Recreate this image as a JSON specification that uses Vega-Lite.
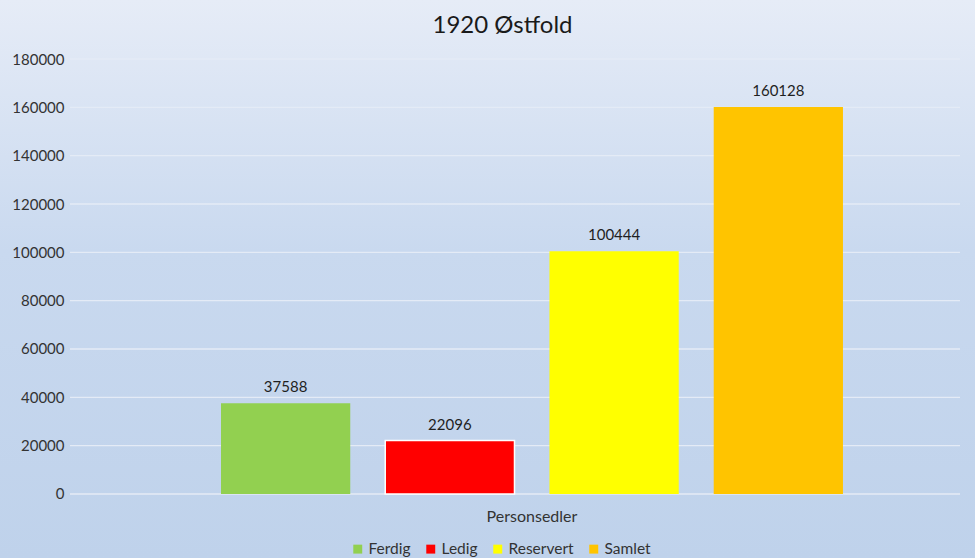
{
  "$schema": "https://vega.github.io/schema/vega-lite/v6.json",
  "width": 975,
  "height": 558,
  "autosize": {"type": "none"},
  "padding": 0,
  "background": "#e6ecf7",
  "title": {
    "text": "1920 Østfold",
    "fontSize": 24,
    "font": "Lato",
    "fontWeight": "normal",
    "color": "#1a1a1a",
    "anchor": "middle",
    "offset": -38,
    "dx": 15
  },
  "datasets": {
    "bars": [
      {"category": "Personsedler", "series": "Ferdig", "value": 37588},
      {"category": "Personsedler", "series": "Ledig", "value": 22096},
      {"category": "Personsedler", "series": "Reservert", "value": 100444},
      {"category": "Personsedler", "series": "Samlet", "value": 160128}
    ],
    "grid": [
      {"tick": 0}, {"tick": 20000}, {"tick": 40000}, {"tick": 60000}, {"tick": 80000},
      {"tick": 100000}, {"tick": 120000}, {"tick": 140000}, {"tick": 160000}, {"tick": 180000}
    ]
  },
  "layer": [
    {
      "data": {"name": "grid"},
      "mark": {"type": "rule", "color": "#e4ebf6", "strokeWidth": 1.3},
      "encoding": {
        "x": {"datum": 0, "type": "quantitative", "axis": null, "scale": {"domain": [-0.07865, 1.01685], "nice": false, "zero": false}},
        "x2": {"datum": 1},
        "y": {
          "field": "tick", "type": "quantitative",
          "scale": {"domain": [-26483, 204414], "nice": false, "zero": false},
          "axis": {"orient": "left", "offset": -70, "labelPadding": 6, "domain": false, "ticks": false, "grid": false, "title": null,
                   "values": [0, 20000, 40000, 60000, 80000, 100000, 120000, 140000, 160000, 180000],
                   "format": "d", "labelFontSize": 15, "labelFont": "Lato", "labelColor": "#333333"}
        }
      }
    },
    {
      "data": {"name": "bars"},
      "layer": [
        {
          "mark": {"type": "bar"},
          "encoding": {
            "color": {
              "field": "series", "type": "nominal",
              "scale": {"domain": ["Ferdig", "Ledig", "Reservert", "Samlet"], "range": ["#92d050", "#ff0000", "#ffff00", "#ffc400"]},
              "legend": {"orient": "none", "legendX": 350, "legendY": 541, "direction": "horizontal", "title": null,
                         "symbolType": "square", "symbolSize": 80, "symbolStrokeWidth": 0, "labelFontSize": 15.5, "labelFont": "Lato",
                         "labelColor": "#333333", "columnPadding": 12, "labelOffset": 3}
            },
            "stroke": {"condition": {"test": "datum.series === 'Ledig'", "value": "#ffffff"}, "value": null},
            "strokeWidth": {"value": 1.5}
          }
        },
        {
          "mark": {"type": "text", "baseline": "alphabetic", "dy": -11, "fontSize": 15, "font": "Lato", "fill": "#1f1f1f"},
          "encoding": {
            "text": {"field": "value", "type": "quantitative", "format": "d"}
          }
        }
      ],
      "encoding": {
        "x": {
          "field": "category", "type": "nominal",
          "scale": {"paddingOuter": 0.2838, "paddingInner": 0, "align": 0.626},
          "axis": {"orient": "bottom", "offset": -50, "labelPadding": 0, "labelDx": -7, "domain": false, "ticks": false, "grid": false, "title": null, "labelAngle": 0, "labelFontSize": 16, "labelFont": "Lato", "labelColor": "#333333"}
        },
        "xOffset": {
          "field": "series", "type": "nominal",
          "scale": {"paddingInner": 0.213, "paddingOuter": 0}
        },
        "y": {
          "field": "value", "type": "quantitative",
          "scale": {"domain": [-26483, 204414], "nice": false, "zero": false},
          "axis": {"orient": "left", "offset": -70, "labelPadding": 6, "domain": false, "ticks": false, "grid": false, "title": null,
                   "values": [0, 20000, 40000, 60000, 80000, 100000, 120000, 140000, 160000, 180000],
                   "format": "d", "labelFontSize": 15, "labelFont": "Lato", "labelColor": "#333333"}
        }
      }
    }
  ],
  "resolve": {"scale": {"x": "independent"}},
  "config": {
    "view": {
      "stroke": null,
      "fill": {
        "gradient": "linear", "x1": 0, "y1": 0, "x2": 0, "y2": 1,
        "stops": [
          {"offset": 0, "color": "#e6ecf7"},
          {"offset": 0.45, "color": "#c9d9ef"},
          {"offset": 1, "color": "#bfd2eb"}
        ]
      }
    }
  }
}
